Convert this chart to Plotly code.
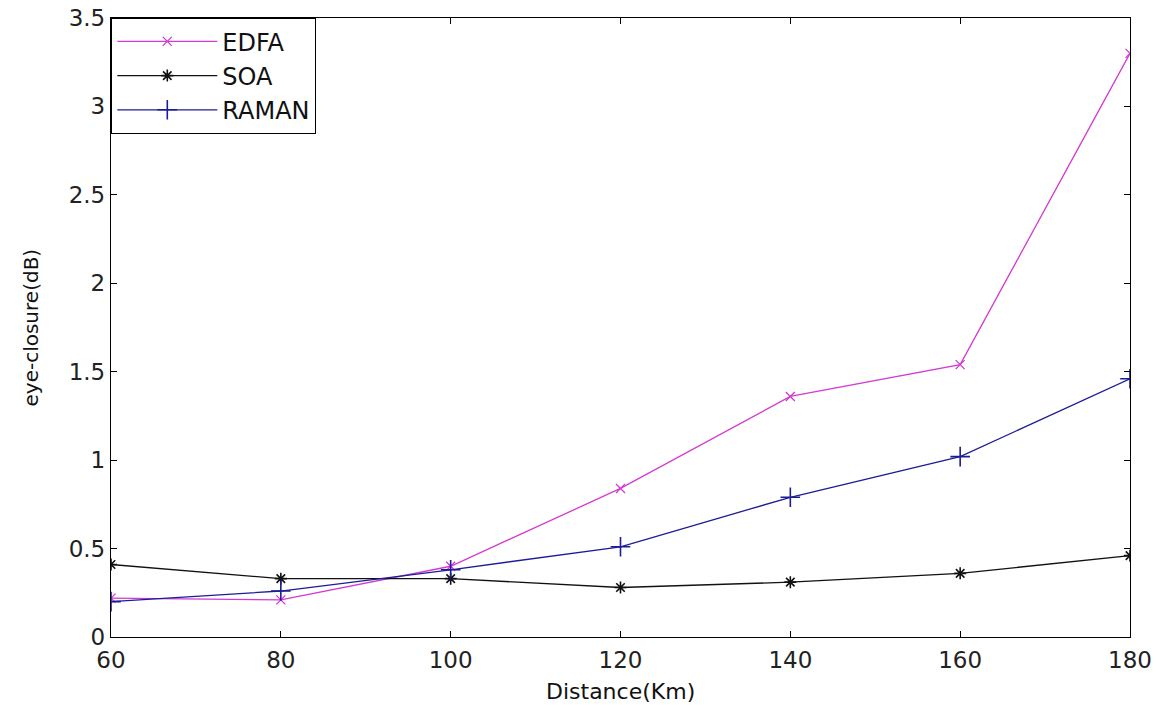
import plotly.graph_objects as go

# Transmission distance (km)
distance_km = [60, 80, 100, 120, 140, 160, 180]

# Eye closure penalty (dB) for each amplifier type
edfa = [0.22, 0.21, 0.40, 0.84, 1.36, 1.54, 3.30]
soa = [0.41, 0.33, 0.33, 0.28, 0.31, 0.36, 0.46]
raman = [0.20, 0.26, 0.38, 0.51, 0.79, 1.02, 1.46]

x_ticks = [60, 80, 100, 120, 140, 160, 180]
y_ticks = [0, 0.5, 1, 1.5, 2, 2.5, 3, 3.5]
y_tick_labels = ["0", "0.5", "1", "1.5", "2", "2.5", "3", "3.5"]

x_title = "Distance(Km)"
y_title = "eye-closure(dB)"

FONT = "DejaVu Sans, Liberation Sans, sans-serif"

fig = go.Figure()
fig.add_trace(go.Scatter(
    x=distance_km, y=edfa, name="EDFA", mode="lines+markers",
    line=dict(color="#d23ad2", width=1.3),
    marker=dict(symbol="x-thin-open", size=9, line=dict(color="#d23ad2", width=1.3)),
))
fig.add_trace(go.Scatter(
    x=distance_km, y=soa, name="SOA", mode="lines+markers",
    line=dict(color="#111111", width=1.3),
    marker=dict(symbol="asterisk-open", size=10, line=dict(color="#111111", width=1.6)),
))
fig.add_trace(go.Scatter(
    x=distance_km, y=raman, name="RAMAN", mode="lines+markers",
    line=dict(color="#1c1c96", width=1.3),
    marker=dict(symbol="cross-thin-open", size=14, line=dict(color="#1c1c96", width=1.6)),
))

axis_common = dict(
    showline=True, linecolor="#000000", linewidth=1.3, mirror="ticks",
    ticks="inside", ticklen=6, tickcolor="#000000", tickwidth=1,
    showgrid=False, zeroline=False, automargin=False,
    tickfont=dict(family=FONT, size=23, color="#222222"),
)

fig.update_xaxes(
    range=[60, 180], tickvals=x_ticks, ticktext=[str(v) for v in x_ticks],
    ticklabelstandoff=2,
    **axis_common,
)
fig.update_yaxes(
    range=[0, 3.5], tickvals=y_ticks, ticktext=y_tick_labels,
    **axis_common,
)

# Axis titles placed relative to the plotting area
fig.add_annotation(
    text=x_title, xref="paper", yref="paper", x=0.5, y=0,
    xanchor="center", yanchor="top", yshift=-40, showarrow=False,
    font=dict(family=FONT, size=22, color="#111111"),
)
fig.add_annotation(
    text=y_title, xref="paper", yref="paper", x=0, y=0.5,
    xanchor="center", yanchor="middle", xshift=-81, textangle=-90, showarrow=False,
    font=dict(family=FONT, size=20, color="#111111"),
)

fig.update_layout(
    width=1162, height=705,
    margin=dict(l=111, r=32, t=18, b=68),
    paper_bgcolor="white", plot_bgcolor="white",
    showlegend=True,
    legend=dict(
        x=0, y=1, xanchor="left", yanchor="top",
        bordercolor="#000000", borderwidth=1.3, bgcolor="white",
        font=dict(family=FONT, size=24, color="#111111"),
        tracegroupgap=0, itemwidth=100,
    ),
)

fig.write_html("out.html")
